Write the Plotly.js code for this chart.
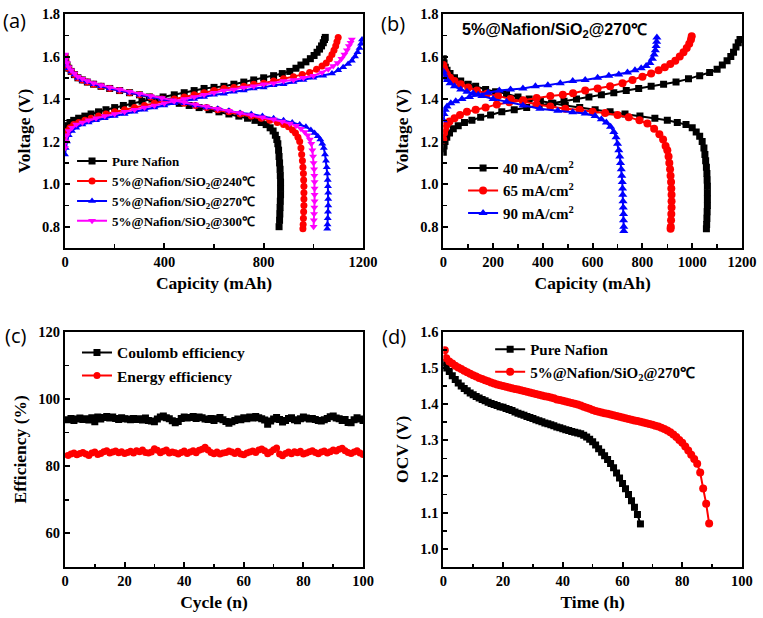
<!DOCTYPE html>
<html><head><meta charset="utf-8">
<script src="https://cdn.plot.ly/plotly-3.0.1.min.js"></script>
<style>html,body{margin:0;padding:0;background:#fff}#chart{width:763px;height:618px}</style>
</head><body><div id="chart"></div>
<script>
// ---------- Panel (a): capacity [mAh], voltage [V] ----------
const aNafionCharge = [[0,1.24],[4,1.26],[10,1.275],[20,1.29],[35,1.30],[55,1.31],[80,1.32],[105,1.33],[135,1.34],[165,1.35],[200,1.36],[235,1.37],[270,1.38],[310,1.39],[350,1.40],[395,1.41],[440,1.42],[480,1.43],[520,1.44],[560,1.45],[600,1.455],[640,1.46],[680,1.47],[720,1.48],[760,1.49],[800,1.50],[840,1.51],[875,1.52],[905,1.53],[930,1.545],[950,1.56],[970,1.575],[988,1.59],[1003,1.605],[1015,1.62],[1025,1.635],[1033,1.65],[1040,1.665],[1045,1.68],[1048,1.69]];
const aNafionDischarge = [[0,1.60],[3,1.58],[8,1.56],[15,1.545],[25,1.53],[38,1.515],[52,1.50],[70,1.49],[90,1.48],[115,1.47],[145,1.46],[180,1.45],[220,1.44],[260,1.43],[300,1.42],[340,1.41],[380,1.40],[420,1.39],[460,1.38],[500,1.37],[540,1.36],[580,1.35],[620,1.34],[660,1.33],[700,1.32],[735,1.31],[765,1.30],[790,1.29],[810,1.28],[826,1.265],[838,1.25],[847,1.23],[853,1.21],[857,1.19],[860,1.16],[862,1.13],[864,1.10],[866,1.07],[867,1.04],[868,1.01],[868,0.98],[868,0.95],[867,0.92],[866,0.89],[865,0.86],[864,0.83],[862,0.80]];
const a240Charge = [[0,1.21],[4,1.23],[10,1.25],[20,1.265],[35,1.28],[55,1.29],[80,1.30],[105,1.31],[135,1.32],[165,1.33],[200,1.34],[240,1.35],[280,1.36],[320,1.37],[360,1.38],[400,1.39],[440,1.40],[480,1.41],[520,1.42],[560,1.43],[600,1.44],[640,1.45],[680,1.455],[720,1.46],[760,1.47],[800,1.475],[840,1.485],[880,1.495],[920,1.505],[955,1.515],[985,1.525],[1013,1.54],[1035,1.555],[1052,1.57],[1065,1.59],[1075,1.61],[1083,1.63],[1090,1.65],[1095,1.67],[1100,1.69]];
const a240Discharge = [[0,1.60],[3,1.58],[8,1.56],[15,1.545],[25,1.53],[38,1.515],[52,1.50],[70,1.49],[90,1.48],[115,1.47],[145,1.46],[180,1.45],[220,1.44],[260,1.43],[300,1.42],[345,1.41],[390,1.40],[435,1.39],[480,1.38],[525,1.37],[570,1.36],[615,1.35],[660,1.34],[705,1.33],[750,1.32],[790,1.31],[825,1.30],[855,1.29],[880,1.28],[900,1.27],[916,1.255],[928,1.24],[938,1.22],[945,1.20],[950,1.17],[953,1.14],[956,1.11],[958,1.08],[960,1.05],[961,1.02],[962,0.99],[962,0.96],[962,0.93],[962,0.90],[961,0.87],[960,0.84],[959,0.81],[958,0.79]];
const a270Charge = [[0,1.14],[3,1.17],[8,1.20],[15,1.23],[28,1.25],[45,1.265],[70,1.28],[95,1.29],[125,1.30],[160,1.31],[200,1.32],[240,1.33],[280,1.34],[320,1.35],[360,1.36],[400,1.37],[440,1.38],[480,1.39],[520,1.40],[560,1.41],[600,1.42],[640,1.425],[680,1.435],[720,1.44],[760,1.45],[800,1.455],[840,1.465],[880,1.47],[920,1.48],[960,1.49],[1000,1.50],[1040,1.51],[1075,1.52],[1100,1.535],[1120,1.55],[1140,1.565],[1155,1.58],[1168,1.60],[1178,1.62],[1186,1.64],[1192,1.66],[1196,1.68]];
const a270Discharge = [[0,1.59],[3,1.575],[8,1.56],[15,1.545],[25,1.53],[38,1.515],[52,1.50],[70,1.49],[90,1.48],[115,1.47],[145,1.46],[180,1.45],[220,1.44],[260,1.43],[300,1.42],[345,1.41],[390,1.40],[435,1.39],[480,1.38],[525,1.37],[570,1.36],[615,1.355],[660,1.345],[705,1.335],[750,1.33],[795,1.32],[840,1.31],[880,1.30],[915,1.29],[945,1.28],[970,1.27],[990,1.255],[1005,1.24],[1018,1.225],[1028,1.21],[1036,1.19],[1042,1.17],[1047,1.14],[1051,1.11],[1054,1.08],[1056,1.05],[1058,1.02],[1059,0.99],[1060,0.96],[1060,0.93],[1060,0.90],[1059,0.87],[1058,0.84],[1057,0.81],[1056,0.79]];
const a300Charge = [[0,1.17],[3,1.20],[8,1.23],[15,1.25],[28,1.265],[45,1.28],[70,1.29],[95,1.30],[125,1.31],[160,1.32],[200,1.33],[240,1.34],[280,1.35],[320,1.36],[360,1.37],[400,1.38],[440,1.39],[480,1.40],[520,1.41],[560,1.42],[600,1.43],[640,1.44],[680,1.445],[720,1.455],[760,1.46],[800,1.47],[840,1.475],[880,1.485],[920,1.49],[960,1.50],[1000,1.51],[1035,1.525],[1060,1.54],[1080,1.555],[1098,1.57],[1113,1.59],[1125,1.61],[1135,1.63],[1143,1.65],[1150,1.665],[1155,1.68]];
const a300Discharge = [[0,1.61],[3,1.59],[8,1.57],[15,1.55],[25,1.535],[38,1.52],[52,1.505],[70,1.495],[90,1.485],[115,1.475],[145,1.465],[180,1.455],[220,1.445],[260,1.435],[300,1.425],[345,1.415],[390,1.405],[435,1.395],[480,1.385],[525,1.375],[570,1.365],[615,1.355],[660,1.345],[705,1.335],[750,1.325],[795,1.315],[840,1.305],[875,1.295],[905,1.285],[930,1.275],[950,1.26],[965,1.245],[977,1.23],[986,1.21],[992,1.19],[996,1.16],[999,1.13],[1001,1.10],[1003,1.07],[1004,1.04],[1005,1.01],[1005,0.98],[1005,0.95],[1005,0.92],[1004,0.89],[1003,0.86],[1002,0.83],[1001,0.80]];

// ---------- Panel (b): current densities ----------
const b40Charge = [[0,1.15],[3,1.18],[7,1.20],[14,1.22],[25,1.24],[40,1.26],[60,1.275],[85,1.29],[115,1.30],[150,1.315],[190,1.325],[235,1.34],[285,1.35],[335,1.36],[385,1.37],[435,1.38],[485,1.39],[535,1.40],[585,1.41],[635,1.42],[685,1.43],[735,1.44],[785,1.45],[835,1.46],[885,1.47],[935,1.48],[985,1.495],[1030,1.51],[1070,1.525],[1100,1.54],[1121,1.56],[1140,1.58],[1155,1.60],[1166,1.62],[1176,1.645],[1185,1.665],[1192,1.68]];
const b40Discharge = [[0,1.59],[3,1.57],[8,1.55],[15,1.535],[27,1.52],[45,1.50],[70,1.485],[100,1.47],[130,1.46],[170,1.445],[210,1.435],[254,1.425],[300,1.41],[345,1.40],[390,1.39],[440,1.38],[490,1.37],[548,1.36],[610,1.35],[670,1.34],[730,1.33],[790,1.32],[850,1.31],[900,1.30],[940,1.29],[975,1.28],[1000,1.265],[1016,1.245],[1030,1.225],[1040,1.20],[1047,1.17],[1051,1.14],[1054,1.11],[1057,1.08],[1059,1.05],[1060,1.02],[1061,0.99],[1061,0.96],[1061,0.93],[1061,0.90],[1060,0.87],[1059,0.84],[1058,0.81],[1057,0.79]];
const b65Charge = [[0,1.21],[3,1.24],[7,1.26],[14,1.28],[25,1.295],[45,1.31],[67,1.325],[95,1.34],[130,1.35],[170,1.36],[215,1.375],[265,1.385],[321,1.395],[375,1.405],[430,1.415],[480,1.42],[521,1.427],[570,1.44],[620,1.45],[670,1.46],[720,1.475],[760,1.49],[800,1.505],[835,1.52],[865,1.535],[890,1.55],[912,1.565],[932,1.58],[950,1.60],[965,1.62],[978,1.64],[988,1.66],[995,1.68],[998,1.695]];
const b65Discharge = [[0,1.56],[3,1.545],[8,1.53],[15,1.515],[27,1.50],[45,1.485],[70,1.47],[100,1.455],[135,1.44],[175,1.425],[220,1.415],[270,1.40],[320,1.39],[375,1.375],[430,1.365],[490,1.355],[548,1.35],[600,1.34],[650,1.335],[700,1.325],[745,1.315],[788,1.30],[820,1.285],[847,1.26],[868,1.235],[883,1.21],[893,1.18],[900,1.16],[905,1.13],[908,1.10],[911,1.07],[913,1.04],[915,1.01],[916,0.98],[917,0.95],[917,0.92],[917,0.89],[916,0.86],[915,0.83],[914,0.80],[913,0.79]];
const b90Charge = [[0,1.30],[3,1.33],[8,1.35],[15,1.365],[30,1.38],[50,1.39],[75,1.40],[105,1.41],[140,1.42],[180,1.43],[225,1.44],[270,1.445],[320,1.45],[370,1.46],[420,1.465],[470,1.475],[520,1.485],[570,1.49],[620,1.50],[665,1.51],[705,1.515],[740,1.525],[770,1.535],[795,1.545],[815,1.555],[830,1.57],[840,1.59],[847,1.61],[852,1.63],[855,1.65],[857,1.67],[858,1.69]];
const b90Discharge = [[0,1.53],[3,1.515],[8,1.50],[15,1.49],[27,1.475],[45,1.46],[70,1.445],[95,1.435],[120,1.427],[155,1.415],[200,1.40],[254,1.388],[320,1.37],[388,1.355],[460,1.345],[520,1.338],[570,1.332],[610,1.32],[635,1.305],[655,1.29],[672,1.27],[685,1.245],[694,1.22],[700,1.19],[705,1.16],[709,1.13],[712,1.10],[715,1.07],[717,1.04],[719,1.01],[720,0.98],[721,0.95],[722,0.92],[723,0.89],[724,0.86],[724,0.83],[725,0.80],[725,0.78]];

// ---------- Panel (c): efficiency [%] per cycle ----------
const coulombEff = [93.8,94.2,93.6,94.0,94.3,93.9,94.1,93.7,94.4,93.2,
  94.6,94.0,94.5,94.8,94.3,94.6,94.2,93.9,94.4,94.1,
  94.0,93.8,94.2,93.9,94.1,93.7,94.3,93.6,93.4,93.2,
  94.0,94.6,94.9,94.4,94.1,93.5,92.9,93.3,94.2,94.6,
  94.3,94.5,94.8,94.2,94.6,94.4,94.0,93.9,94.2,93.6,
  94.1,94.5,93.8,93.3,92.8,93.2,93.6,94.0,93.8,94.4,
  94.1,94.6,94.3,94.8,94.4,94.1,93.7,92.5,93.4,94.0,
  94.5,93.9,93.1,93.6,94.2,94.4,93.8,93.5,94.1,94.6,
  94.3,94.0,94.2,93.9,93.6,93.4,93.8,94.2,94.7,94.9,
  94.3,94.1,93.6,93.9,93.0,92.9,93.8,94.4,94.0,93.6];
const energyEff = [83.2,83.6,83.9,83.4,83.8,84.1,83.6,83.2,83.9,84.2,
  83.5,83.8,84.3,84.6,83.9,84.2,84.5,84.0,84.3,83.8,
  84.1,84.4,83.9,84.6,84.3,84.8,84.1,83.9,84.2,85.2,
  84.7,84.0,84.4,84.8,83.9,84.2,84.0,83.6,84.1,84.5,
  83.8,84.2,84.6,84.0,84.7,85.0,85.6,84.8,84.1,83.7,
  84.2,83.6,83.9,84.1,84.5,84.2,83.8,84.4,83.6,83.4,
  83.9,84.2,84.5,84.1,84.8,85.1,84.6,83.7,84.2,84.9,
  85.4,83.6,83.1,83.8,84.2,83.7,84.3,84.0,84.4,83.6,
  83.9,84.3,84.6,84.1,83.7,84.2,84.5,83.9,84.3,84.8,
  84.5,85.0,85.3,84.6,84.1,83.8,84.2,84.6,83.9,83.5];
const cycles = coulombEff.map((_, i) => i + 1);

// ---------- Panel (d): OCV [V] vs time [h] ----------
const dNafion = [[0,1.515],[1,1.50],[2,1.49],[3,1.478],[4,1.468],[5,1.458],[6,1.45],[7,1.443],[8,1.437],[9,1.431],[10,1.426],[11,1.421],[12,1.417],[13,1.413],[14,1.409],[15,1.405],[16,1.402],[17,1.399],[18,1.396],[19,1.393],[20,1.391],[21,1.388],[22,1.385],[23,1.382],[24,1.378],[25,1.375],[26,1.372],[27,1.369],[28,1.366],[29,1.363],[30,1.360],[31,1.357],[32,1.354],[33,1.351],[34,1.348],[35,1.346],[36,1.343],[37,1.340],[38,1.337],[39,1.335],[40,1.332],[41,1.329],[42,1.327],[43,1.324],[44,1.322],[45,1.320],[46,1.318],[47,1.314],[48,1.309],[49,1.303],[50,1.296],[51,1.287],[52,1.277],[53,1.267],[54,1.257],[55,1.247],[56,1.236],[57,1.224],[58,1.210],[59,1.196],[60,1.181],[61,1.166],[62,1.150],[63,1.133],[64,1.115],[65,1.095],[66,1.069]];
const dSiO2 = [[0.5,1.549],[1,1.527],[2,1.518],[3,1.512],[4,1.506],[5,1.501],[6,1.497],[7,1.492],[8,1.488],[9,1.484],[10,1.480],[11,1.476],[12,1.472],[13,1.469],[14,1.466],[15,1.463],[16,1.460],[17,1.457],[18,1.454],[19,1.452],[20,1.450],[21,1.448],[22,1.446],[23,1.444],[24,1.442],[25,1.440],[26,1.438],[27,1.436],[28,1.434],[29,1.432],[30,1.430],[31,1.428],[32,1.426],[33,1.424],[34,1.422],[35,1.420],[36,1.418],[37,1.416],[38,1.413],[39,1.411],[40,1.409],[41,1.407],[42,1.405],[43,1.403],[44,1.401],[45,1.399],[46,1.396],[47,1.393],[48,1.390],[49,1.387],[50,1.384],[51,1.381],[52,1.379],[53,1.377],[54,1.375],[55,1.373],[56,1.371],[57,1.369],[58,1.367],[59,1.365],[60,1.363],[61,1.361],[62,1.359],[63,1.357],[64,1.355],[65,1.353],[66,1.351],[67,1.349],[68,1.347],[69,1.345],[70,1.343],[71,1.340],[72,1.338],[73,1.335],[74,1.331],[75,1.327],[76,1.322],[77,1.316],[78,1.309],[79,1.301],[80,1.293],[81,1.283],[82,1.272],[83,1.260],[84,1.248],[85,1.235],[86,1.211],[87,1.167],[88,1.125],[89,1.070]];

// ---------- helpers ----------
function cols(p){ return {x: p.map(v => v[0]), y: p.map(v => v[1])}; }
function joined(a, b){ const A = cols(a), B = cols(b); return {x: [...A.x, null, ...B.x], y: [...A.y, null, ...B.y]}; }
function tr(xy, name, color, symbol, size, xa, ya, leg){
  return {x: xy.x, y: xy.y, name: name, type: 'scatter', mode: 'lines+markers',
    line: {color: color, width: 2}, marker: {color: color, symbol: symbol, size: size},
    xaxis: xa, yaxis: ya, legend: leg, connectgaps: false};
}
const SIO = '5%@Nafion/SiO<sub>2</sub>@';
const traces = [
  tr(joined(aNafionCharge, aNafionDischarge), 'Pure Nafion', '#000000', 'square', 7, 'x', 'y', 'legend'),
  tr(joined(a240Charge, a240Discharge), SIO + '240℃', '#ff0000', 'circle', 7, 'x', 'y', 'legend'),
  tr(joined(a270Charge, a270Discharge), SIO + '270℃', '#0000ff', 'triangle-up', 7, 'x', 'y', 'legend'),
  tr(joined(a300Charge, a300Discharge), SIO + '300℃', '#ff00ff', 'triangle-down', 7, 'x', 'y', 'legend'),
  tr(joined(b40Charge, b40Discharge), '40 mA/cm<sup>2</sup>', '#000000', 'square', 7, 'x2', 'y2', 'legend2'),
  tr(joined(b65Charge, b65Discharge), '65 mA/cm<sup>2</sup>', '#ff0000', 'circle', 8, 'x2', 'y2', 'legend2'),
  tr(joined(b90Charge, b90Discharge), '90 mA/cm<sup>2</sup>', '#0000ff', 'triangle-up', 8, 'x2', 'y2', 'legend2'),
  tr({x: cycles, y: coulombEff}, 'Coulomb efficiency', '#000000', 'square', 7, 'x3', 'y3', 'legend3'),
  tr({x: cycles, y: energyEff}, 'Energy efficiency', '#ff0000', 'circle', 7, 'x3', 'y3', 'legend3'),
  tr(cols(dNafion), 'Pure Nafion', '#000000', 'square', 7, 'x4', 'y4', 'legend4'),
  tr(cols(dSiO2), SIO + '270℃', '#ff0000', 'circle', 8, 'x4', 'y4', 'legend4')
];

const SERIF = 'Liberation Serif';
function ax(domain, anchor, range, dtick, minor, title, standoff, fmt){
  const o = {domain: domain, anchor: anchor, range: range, dtick: dtick, tick0: 0,
    showline: true, linewidth: 2, linecolor: '#000', mirror: true,
    ticks: 'inside', ticklen: 5, tickwidth: 2, tickcolor: '#000',
    minor: {dtick: minor, ticks: 'inside', ticklen: 3.5, tickwidth: 1.5, tickcolor: '#000', showgrid: false},
    showgrid: false, zeroline: false, fixedrange: true,
    tickfont: {family: SERIF, size: 14.5, color: '#000', weight: 700},
    title: {text: title, standoff: standoff, font: {family: SERIF, size: 17.5, color: '#000', weight: 700}}};
  if (fmt) o.tickformat = fmt;
  return o;
}
const xa = [0, 0.4402], xb = [0.5588, 1.0];
const yTop = [0.5769, 1.0], yBot = [0, 0.4255];
function leg(x, y, size){
  return {x: x, y: y, xanchor: 'left', yanchor: 'top', bgcolor: 'rgba(0,0,0,0)', borderwidth: 0,
    font: {family: SERIF, size: size, color: '#000', weight: 700}, tracegroupgap: 0};
}
const lab = (t, x, y) => ({text: t, x: x, y: y, xref: 'paper', yref: 'paper', showarrow: false,
  xanchor: 'center', yanchor: 'middle', font: {family: 'Open Sans', size: 20, color: '#000', weight: 400}});

const layout = {
  width: 763, height: 618, paper_bgcolor: '#fff', plot_bgcolor: '#fff', showlegend: true,
  font: {family: SERIF, size: 14, color: '#000', weight: 700},
  margin: {l: 65, r: 21, t: 14, b: 51},
  xaxis: ax(xa, 'y', [0, 1200], 400, 200, 'Capicity (mAh)', 7),
  yaxis: ax(yTop, 'x', [0.7, 1.8], 0.2, 0.1, 'Voltage (V)', 7, '.1f'),
  xaxis2: ax(xb, 'y2', [0, 1200], 200, 100, 'Capicity (mAh)', 7),
  yaxis2: ax(yTop, 'x2', [0.7, 1.8], 0.2, 0.1, 'Voltage (V)', 7, '.1f'),
  xaxis3: ax(xa, 'y3', [0, 100], 20, 10, 'Cycle (n)', 7),
  yaxis3: ax(yBot, 'x3', [50, 120], 20, 10, 'Efficiency (%)', 7),
  xaxis4: ax(xb, 'y4', [0, 100], 20, 10, 'Time (h)', 7),
  yaxis4: ax(yBot, 'x4', [0.95, 1.6], 0.1, 0.05, 'OCV (V)', 7, '.1f'),
  legend: leg(0.0104, 0.761, 13),
  legend2: leg(0.588, 0.751, 15),
  legend3: leg(0.0177, 0.418, 15.5),
  legend4: leg(0.628, 0.423, 15),
  annotations: [
    lab('(a)', -0.0753, 0.989), lab('(b)', 0.4845, 0.9837), lab('(c)', -0.0724, 0.4195), lab('(d)', 0.486, 0.4177),
    {text: '5%@Nafion/SiO<sub>2</sub>@270℃', x: 0.5835, y: 0.971, xref: 'paper', yref: 'paper', showarrow: false,
     xanchor: 'left', yanchor: 'middle', font: {family: 'Liberation Sans', size: 16, color: '#000', weight: 700}}
  ]
};
Plotly.newPlot('chart', traces, layout, {displayModeBar: false, staticPlot: true});
</script></body></html>
